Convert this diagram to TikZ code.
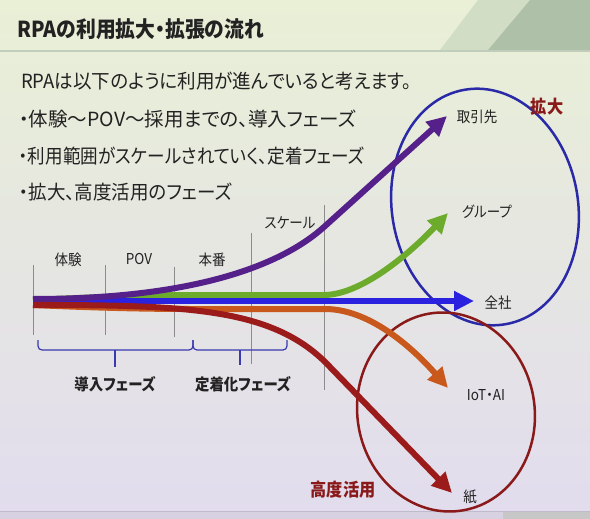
\documentclass[tikz,border=0pt]{standalone}
\usepackage{fontspec}
\setmainfont{Noto Sans CJK JP}
\newfontfamily\condf{Noto Sans CJK JP}[RawFeature=+palt, FakeStretch=0.9]
\newfontfamily\bodyf{Noto Sans CJK JP}[RawFeature=+palt, FakeStretch=0.95]
\newfontfamily\widef{Noto Sans CJK JP}[RawFeature=+palt]
\usetikzlibrary{arrows.meta}
\definecolor{txt}{HTML}{222222}
\definecolor{bgtop}{HTML}{E9F0D6}
\definecolor{bgmid}{HTML}{EEF0E8}
\definecolor{bgbot}{HTML}{E2DCEE}
\definecolor{bandA}{HTML}{D2DDC6}
\definecolor{bandB}{HTML}{AFC0A9}
\definecolor{purp}{HTML}{55208A}
\definecolor{grn}{HTML}{6CAB2C}
\definecolor{blu}{HTML}{2B22E0}
\definecolor{orn}{HTML}{C9581C}
\definecolor{dred}{HTML}{9B1B1B}
\definecolor{ellB}{HTML}{2A2AA8}
\definecolor{ellR}{HTML}{8A1A1A}
\definecolor{brace}{HTML}{3A3AB0}
\begin{document}
\begin{tikzpicture}[x=1pt,y=-1pt,
  body/.style={anchor=west, text=txt, font=\bodyf\fontsize{19.5}{22}\selectfont, inner sep=0pt},
  lbl/.style={text=txt, font=\condf\fontsize{15}{17}\selectfont, inner sep=0pt},
  phaselbl/.style={text=txt, font=\condf\fontsize{16}{18}\selectfont\bfseries, inner sep=0pt},
  redlbl/.style={text=ellR, font=\condf\fontsize{18}{20}\selectfont\bfseries, inner sep=0pt},
  flow/.style={line width=6pt, -{Triangle[length=20pt,width=19pt]}},
  divider/.style={line width=1pt, draw=black!45},
  bracepath/.style={line width=1.2pt, draw=brace, rounded corners=4pt}]
% background
\useasboundingbox (0,0) rectangle (590,519);
\shade[top color=bgtop, middle color=bgmid, bottom color=bgbot] (0,0) rectangle (590,519);
\fill[bandA] (440,50) -- (478,0) -- (530,0) -- (488,50) -- cycle;
\fill[bandB] (488,50) -- (530,0) -- (590,0) -- (590,50) -- cycle;
\draw[line width=1.5pt, draw=bandB!80] (0,51) -- (590,51);
\fill[bgbot!95!black] (0,512) rectangle (590,519);
\fill[black!22] (503,512) rectangle (590,519);
\draw[line width=1pt, draw=bgbot!85!black] (0,511.5) -- (590,511.5);

% title and text
\node[anchor=west, text=txt, font=\condf\fontsize{22}{25}\selectfont\bfseries, inner sep=0pt] (title) at (17,29) {RPAの利用拡大・拡張の流れ};
\node[body] (l1) at (21,81) {RPAは以下のように利用が進んでいると考えます。};
\node[body, font=\widef\fontsize{19.5}{22}\selectfont] (l2) at (19,119) {・体験～POV～採用までの、導入フェーズ};
\node[body, font=\condf\fontsize{19.5}{22}\selectfont] (l3) at (19,156) {・利用範囲がスケールされていく、定着フェーズ};
\node[body] (l4) at (19,192) {・拡大、高度活用のフェーズ};

% dividers
\coordinate (d1t) at (33,265); \coordinate (d1b) at (33,335);
\coordinate (d2t) at (105,265); \coordinate (d2b) at (105,335);
\coordinate (d3t) at (174,267); \coordinate (d3b) at (174,337);
\coordinate (d4t) at (251,233); \coordinate (d4b) at (251,364);
\coordinate (d5t) at (324,205); \coordinate (d5b) at (324,390);
\draw[divider] (d1t) -- (d1b);
\draw[divider] (d2t) -- (d2b);
\draw[divider] (d3t) -- (d3b);
\draw[divider] (d4t) -- (d4b);
\draw[divider] (d5t) -- (d5b);

\node[lbl] (taiken) at (68,260) {体験};
\node[lbl] (pov) at (139,259) {POV};
\node[lbl] (honban) at (212,260) {本番};
\node[lbl] (scale) at (290,223) {スケール};

% ellipses
\draw[ellB, line width=2.5pt, rotate around={10:(485,207)}] (485,207) ellipse [x radius=93pt, y radius=119pt];
\draw[ellR, line width=2.5pt, rotate around={10:(446,412)}] (446,412) ellipse [x radius=88.6pt, y radius=99.8pt];

% flows
\coordinate (tP) at (447,116);
\coordinate (tG) at (448,213);
\coordinate (tB) at (474,301);
\coordinate (tO) at (448,388);
\coordinate (tR) at (452,493);
\draw[flow, orn] (33,305) .. controls (100,308) and (150,309) .. (190,309) -- (325,309) .. controls (368,309) and (410,345) .. (tO);
\draw[flow, grn] (33,300) .. controls (100,297) and (140,295) .. (190,295) -- (325,295) .. controls (365,294) and (415,248) .. (tG);
\draw[flow, blu] (33,301) -- (tB);
\draw[flow, purp] (33,299) .. controls (200,299) and (284,263) .. (324,227) -- (tP);
\draw[flow, dred] (33,305) .. controls (190,305) and (275,308) .. (330,367) -- (tR);

% braces
\draw[bracepath] (38,340) |- (115,350) -| (193,340);
\draw[line width=1.2pt, draw=brace] (115,350) -- (115,367);
\draw[bracepath] (193,340) |- (240,350) -| (287,340);
\draw[line width=1.2pt, draw=brace] (240,350) -- (240,365);
\node[phaselbl] (dounyu) at (115,384) {導入フェーズ};
\node[phaselbl] (teichaku) at (243,384) {定着化フェーズ};

% target labels
\node[lbl] (torihiki) at (477,117) {取引先};
\node[lbl] (group) at (487,212) {グループ};
\node[lbl] (zensha) at (498,303) {全社};
\node[lbl] (iotai) at (486,395) {IoT・AI};
\node[lbl] (kami) at (470,497) {紙};
\node[redlbl] (kakudai) at (547,107) {拡大};
\node[redlbl] (koudo) at (343,490) {高度活用};
\end{tikzpicture}
\end{document}
